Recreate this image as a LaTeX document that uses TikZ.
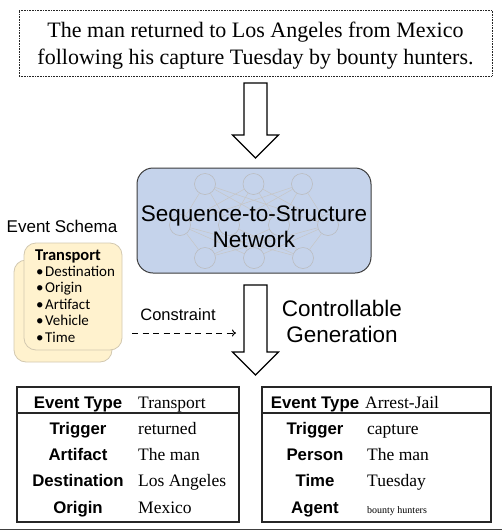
\documentclass[tikz,border=0pt]{standalone}
\usepackage{fontspec}
\setmainfont{Liberation Serif}
\setsansfont{Liberation Sans}
\newfontfamily\cardfont{Carlito}
\usetikzlibrary{arrows.meta,positioning}

\definecolor{netblue}{HTML}{C5D3EB}
\definecolor{netline}{HTML}{3C3C3C}
\definecolor{cardfill}{HTML}{FFF2CE}
\definecolor{carddraw}{HTML}{D2C8B0}

\tikzset{
	sentbox/.style={draw=black!85,dash pattern=on 0.8pt off 0.8pt,line width=0.9pt,minimum width=473pt,minimum height=66pt,inner sep=0pt},
	senttext/.style={inner sep=0pt,align=center,font=\fontsize{22}{27}\selectfont},
	fatarrow/.style={draw=black,line width=1.2pt,fill=white,line join=miter},
	netbox/.style={draw=netline,fill=netblue,line width=1pt,rounded corners=16pt,minimum width=234pt,minimum height=105pt},
	netnode/.style={circle,draw=gray!55,line width=0.5pt,minimum size=21pt,inner sep=0pt},
	netedge/.style={draw=gray!45,line width=0.5pt},
	bigtext/.style={align=center,inner sep=0pt,font=\sffamily\fontsize{22.5}{26}\selectfont},
	card/.style={draw=carddraw,fill=cardfill,line width=0.8pt,rounded corners=12pt},
	cardtext/.style={anchor=base west,inner sep=0pt,font=\cardfont\fontsize{15}{18}\selectfont},
	tabframe/.style={draw=black!85,line width=1.1pt},
	lbl/.style={anchor=base,inner sep=0pt,font=\sffamily\bfseries\fontsize{16.8}{19}\selectfont},
	val/.style={anchor=base west,inner sep=0pt,font=\fontsize{17.5}{20}\selectfont},
}

\begin{document}
\begin{tikzpicture}[x=1pt,y=-1pt]
	\useasboundingbox (0,0) rectangle (502,531);
	% input sentence
	\node[sentbox] (sent) at (255.5,43) {};
	\node[senttext] (senttxt) at (255.5,45.5) {The man returned to Los Angeles from Mexico\\following his capture Tuesday by bounty hunters.};
	% first block arrow
	\coordinate (arrA) at (255.5,83);
	\draw[fatarrow] (arrA) ++(-11.5,0) -- ++(23,0) -- ++(0,52) -- ++(11.5,0) -- ++(-23,23) -- ++(-23,-23) -- ++(11.5,0) -- cycle;
	% network
	\node[netbox] (net) at (254,220.5) {};
	\foreach \x [count=\i] in {205,253.5,302} \node[netnode] (t\i) at (\x,184) {};
	\foreach \x [count=\i] in {180,229,279,328} \node[netnode] (m\i) at (\x,225) {};
	\foreach \x [count=\i] in {205,254,303} \node[netnode] (b\i) at (\x,258) {};
	\foreach \i in {1,2,3} \foreach \j in {1,...,4} \draw[netedge] (t\i) -- (m\j) (m\j) -- (b\i);
	\node[bigtext] (nettxt) at (254,227) {Sequence-to-Structure\\Network};
	% second block arrow
	\coordinate (arrB) at (255.5,285);
	\draw[fatarrow] (arrB) ++(-11.5,0) -- ++(23,0) -- ++(0,67) -- ++(11.5,0) -- ++(-23,23) -- ++(-23,-23) -- ++(11.5,0) -- cycle;
	\node[bigtext] (gen) at (342,321) {Controllable\\Generation};
	% event schema
	\node[inner sep=0pt,font=\sffamily\fontsize{17}{20}\selectfont] (schema) at (62,226) {Event Schema};
	\node[card,minimum width=98pt,minimum height=102pt] (cardback) at (63,311) {};
	\node[card,minimum width=98pt,minimum height=107pt] (card) at (73,296.5) {};
	\node[cardtext,font=\cardfont\bfseries\fontsize{16.5}{18}\selectfont] (ttype) at (35,260) {Transport};
	\foreach \a [count=\i] in {Destination,Origin,Artifact,Vehicle,Time}
		\node[cardtext] (attr\i) at (36,259.5+16.5*\i) {\textbullet\hspace{1.5pt}\a};
	% constraint
	\node[inner sep=0pt,font=\sffamily\fontsize{16.5}{19}\selectfont] (cons) at (178,315) {Constraint};
	\coordinate (consA) at (132,333);
	\coordinate (consB) at (236,333);
	\draw[line width=1pt,dash pattern=on 6pt off 4.5pt,-{To[length=4pt,width=7pt]}] (consA) -- (consB);
	% left table
	\node[tabframe,minimum width=222pt,minimum height=135pt] (tabA) at (128,454.5) {};
	\draw[tabframe] (tabA.west |- 0,413) -- (tabA.east |- 0,413);
	\node[lbl] (typeA) at (78,408) {Event Type};
	\node[val] (typeAval) at (138,408) {Transport};
	\foreach \l/\v [count=\i] in {Trigger/returned,Artifact/The man,Destination/Los Angeles,Origin/Mexico} {
		\node[lbl] (argA\i) at (78,408+26.3*\i) {\l};
		\node[val] (valA\i) at (138,408+26.3*\i) {\v};
	}
	% right table
	\node[tabframe,minimum width=229pt,minimum height=135pt] (tabB) at (376.5,454.5) {};
	\draw[tabframe] (tabB.west |- 0,413) -- (tabB.east |- 0,413);
	\node[lbl] (typeB) at (315,408) {Event Type};
	\node[val] (typeBval) at (365,408) {Arrest-Jail};
	\foreach \l/\v [count=\i] in {Trigger/capture,Person/The man,Time/Tuesday,Agent/{\fontsize{10}{12}\selectfont bounty hunters}} {
		\node[lbl] (argB\i) at (315,408+26.3*\i) {\l};
		\node[val] (valB\i) at (367,408+26.3*\i) {\v};
	}
	\draw[line width=0.8pt,black!75] (0,529.5) -- (502,529.5);
\end{tikzpicture}
\end{document}
